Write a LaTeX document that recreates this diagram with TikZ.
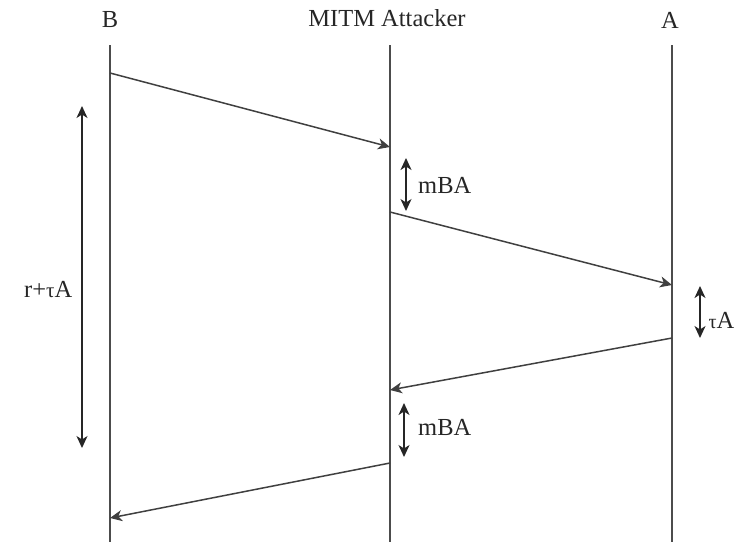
\documentclass[tikz,border=0pt]{standalone}
\usepackage{fontspec}
\setmainfont{Liberation Serif}
\usetikzlibrary{arrows.meta}
\begin{document}
\begin{tikzpicture}[x=1pt,y=-1pt,
  life/.style={draw=black!70,line width=1.7pt},
  msg/.style={draw=black!75,line width=1.5pt,-{Stealth[length=12pt,width=11pt,inset=3.5pt]}},
  span/.style={draw=black!85,line width=1.6pt,{Stealth[length=12pt,width=11pt,inset=3.5pt]}-{Stealth[length=12pt,width=11pt,inset=3.5pt]}},
  lbl/.style={font=\fontsize{24.5}{26}\selectfont,text=black!85,inner sep=0pt}]
\useasboundingbox (0,0) rectangle (735,542);
% headers
\node[lbl] (hB) at (110,20) {B};
\node[lbl] (hM) at (387,18) {MITM Attacker};
\node[lbl] (hA) at (670,20) {A};
% lifelines
\coordinate (B0) at (110,45); \coordinate (B1) at (110,542);
\coordinate (M0) at (390,45); \coordinate (M1) at (390,542);
\coordinate (A0) at (672,45); \coordinate (A1) at (672,542);
\draw[life] (B0) -- (B1);
\draw[life] (M0) -- (M1);
\draw[life] (A0) -- (A1);
% messages
\coordinate (m1s) at (110,73); \coordinate (m1e) at (390,147);
\coordinate (m2s) at (390,212); \coordinate (m2e) at (672,285);
\coordinate (m3s) at (672,338); \coordinate (m3e) at (390,390);
\coordinate (m4s) at (390,463); \coordinate (m4e) at (110,518);
\draw[msg] (m1s) -- (m1e);
\draw[msg] (m2s) -- (m2e);
\draw[msg] (m3s) -- (m3e);
\draw[msg] (m4s) -- (m4e);
% durations
\coordinate (d1a) at (406,158); \coordinate (d1b) at (406,211);
\draw[span] (d1a) -- (d1b);
\node[lbl,anchor=west] (l1) at (418,185) {mBA};
\coordinate (d2a) at (700,286); \coordinate (d2b) at (700,338);
\draw[span] (d2a) -- (d2b);
\node[lbl,anchor=east] (l2) at (734.5,320) {{\fontsize{20}{20}\selectfont τ}A};
\coordinate (d3a) at (404,403); \coordinate (d3b) at (404,457);
\draw[span] (d3a) -- (d3b);
\node[lbl,anchor=west] (l3) at (418,427) {mBA};
\coordinate (d4a) at (82,106); \coordinate (d4b) at (82,448);
\draw[span] (d4a) -- (d4b);
\node[lbl,anchor=west] (l4) at (24,290) {r+{\fontsize{21}{21}\selectfont τ}A};
\end{tikzpicture}
\end{document}
